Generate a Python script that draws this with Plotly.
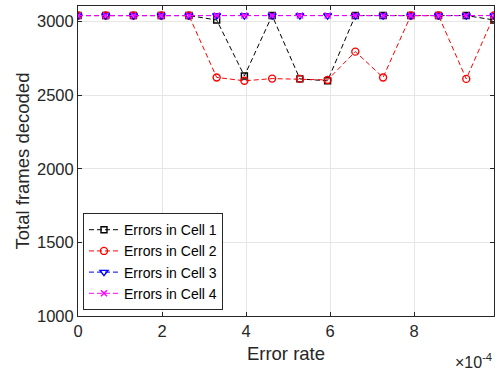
import plotly.graph_objects as go

error_rate = [k * 0.66e-4 for k in range(16)]
cell1 = [3040, 3040, 3040, 3040, 3040, 3010, 2630, 3040, 2610, 2597, 3040, 3040, 3040, 3040, 3040, 3010]
cell2 = [3040, 3040, 3040, 3040, 3040, 2620, 2597, 2612, 2610, 2603, 2795, 2620, 3040, 3040, 2610, 3040]
cell3 = [3040] * 16
cell4 = [3040] * 16
names = ["Errors in Cell 1", "Errors in Cell 2", "Errors in Cell 3", "Errors in Cell 4"]
colors = ["#000000", "#ff0000", "#0000ff", "#ff00ff"]
symbols = ["square-open", "circle-open", "triangle-down-open", "x-thin-open"]
sizes = [6, 7, 7, 6]
series = [cell1, cell2, cell3, cell4]

xticks = [0, 2e-4, 4e-4, 6e-4, 8e-4]
xticktext = ["0", "2", "4", "6", "8"]
yticks = [1000, 1500, 2000, 2500, 3000]

fig = go.Figure()
for name, ys, c, s, sz in zip(names, series, colors, symbols, sizes):
    fig.add_trace(go.Scatter(
        x=error_rate, y=ys, name=name, mode="lines+markers",
        line=dict(color=c, width=1, dash="5px,3px"),
        marker=dict(symbol=s, size=sz, color=c, line=dict(color=c, width=1.4)),
    ))

font = "Liberation Sans, Arial, sans-serif"
fig.update_layout(
    width=501, height=373,
    margin=dict(l=78, r=7, t=6, b=57),
    paper_bgcolor="white", plot_bgcolor="white",
    font=dict(family=font, size=16, color="#262626"),
    showlegend=True,
    legend=dict(
        x=0.012, y=0.019, xanchor="left", yanchor="bottom",
        bgcolor="white", bordercolor="#262626", borderwidth=1,
        font=dict(size=14, color="#000000"),
        tracegroupgap=0, itemwidth=30,
    ),
    xaxis=dict(
        range=[0, 9.9e-4], tickvals=xticks, ticktext=xticktext,
        ticks="inside", ticklen=4, tickcolor="#262626",
        showline=True, linecolor="#262626", linewidth=1, mirror="ticks",
        showgrid=True, gridcolor="#e6e6e6", gridwidth=1, zeroline=False,
        title=dict(text="Error rate", font=dict(size=18.5), standoff=8),
        tickfont=dict(size=16.5),
    ),
    yaxis=dict(
        range=[1000, 3105], tickvals=yticks,
        ticks="inside", ticklen=4, tickcolor="#262626",
        showline=True, linecolor="#262626", linewidth=1, mirror="ticks",
        showgrid=True, gridcolor="#e6e6e6", gridwidth=1, zeroline=False,
        title=dict(text="Total frames decoded", font=dict(size=18.5), standoff=2),
        tickfont=dict(size=16.5),
    ),
)
fig.add_annotation(
    xref="paper", yref="paper", x=1.0, y=-0.105, xanchor="right", yanchor="top",
    text="×10<sup>-4</sup>", showarrow=False, font=dict(size=16, color="#262626"),
)
fig.write_html("out.html")
